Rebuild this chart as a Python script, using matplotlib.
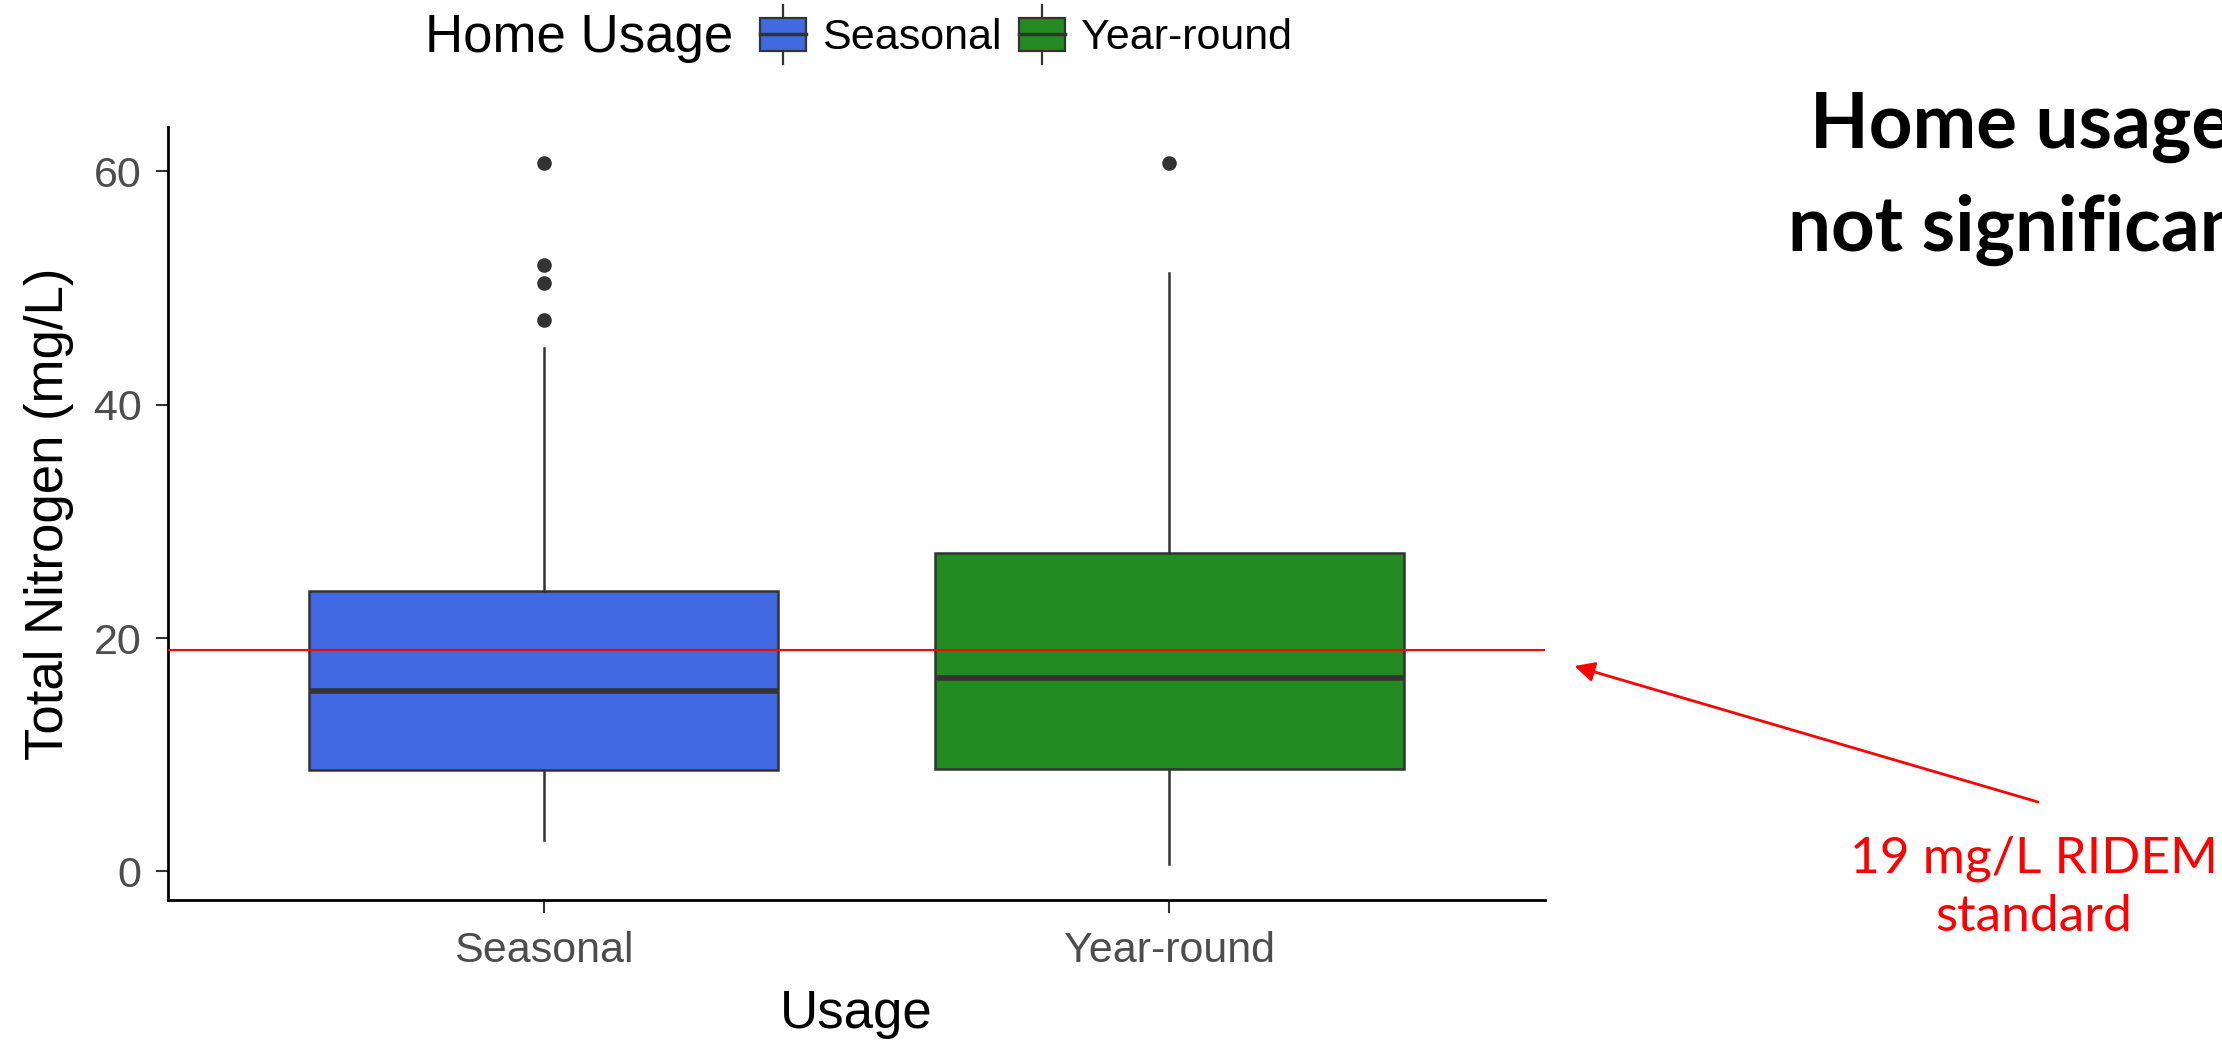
import matplotlib
matplotlib.use("Agg")
import matplotlib.pyplot as plt
from matplotlib.patches import Rectangle
from matplotlib.lines import Line2D
from matplotlib.legend_handler import HandlerBase

# ---- data -------------------------------------------------------------
categories = ["Seasonal", "Year-round"]
fill_colors = ["#4169E1", "#228B22"]
whisker_low = [2.7, 0.6]
quartile_1 = [8.7, 8.75]
medians = [15.5, 16.6]
quartile_3 = [24.0, 27.3]
whisker_high = [44.9, 51.3]
outliers = [[47.3, 50.4, 52.0, 60.7], [60.75]]
standard_level = 19
y_ticks = [0, 20, 40, 60]

W, H = 2222, 1041
fig = plt.figure(figsize=(W / 100, H / 100), dpi=100)
ax = fig.add_axes([168 / W, 1 - 900 / H, (1545 - 168) / W, (900 - 127.5) / H])

sans = "Liberation Sans"
edge = "#333333"

stats = []
for i, name in enumerate(categories):
    stats.append(dict(label=name, whislo=whisker_low[i], q1=quartile_1[i],
                      med=medians[i], q3=quartile_3[i], whishi=whisker_high[i],
                      fliers=outliers[i]))

positions = list(range(1, len(categories) + 1))
bp = ax.bxp(stats, positions=positions, widths=0.75, patch_artist=True,
            showcaps=False,
            boxprops=dict(edgecolor=edge, linewidth=1.8),
            whiskerprops=dict(color=edge, linewidth=1.8),
            medianprops=dict(color=edge, linewidth=4.0),
            flierprops=dict(marker="o", markersize=10.5, markerfacecolor=edge,
                            markeredgecolor=edge, markeredgewidth=0))
for patch, col in zip(bp["boxes"], fill_colors):
    patch.set_facecolor(col)

# regulatory standard
ax.axhline(standard_level, color="red", linewidth=1.5, zorder=5)

ax.set_xlim(0.4, 2.6)
ax.set_ylim(-2.45, 63.76)
ax.set_yticks(y_ticks)
ax.set_xticks(positions)
ax.set_xticklabels(categories)

for s in ["top", "right"]:
    ax.spines[s].set_visible(False)
for s in ["left", "bottom"]:
    ax.spines[s].set_color("black")
    ax.spines[s].set_linewidth(2.0)

ax.tick_params(axis="both", length=9, width=1.5, color=edge,
               labelcolor="#4D4D4D", labelsize=31, pad=10)
ax.tick_params(axis="x", pad=13)
for lbl in ax.get_xticklabels() + ax.get_yticklabels():
    lbl.set_fontfamily(sans)

ax.set_xlabel("Usage", fontsize=38, family=sans, labelpad=13)
ax.set_ylabel("Total Nitrogen (mg/L)", fontsize=38, family=sans, labelpad=14)


# ---- legend with boxplot-style keys -----------------------------------
class BoxKeyHandler(HandlerBase):
    def create_artists(self, legend, orig_handle, xdescent, ydescent,
                       width, height, fontsize, trans):
        x0, y0 = -xdescent, -ydescent
        fc = orig_handle.get_facecolor()
        xc = x0 + width / 2
        yc = y0 + height / 2
        ext = height * 0.9
        wl = Line2D([xc, xc], [yc - ext, yc + ext], color=edge, lw=1.6,
                    transform=trans)
        box = Rectangle((x0, y0), width, height, facecolor=fc,
                        edgecolor=edge, lw=1.6, transform=trans)
        med = Line2D([x0, x0 + width], [yc, yc], color=edge, lw=2.5,
                     transform=trans)
        return [wl, box, med]


handles = [Rectangle((0, 0), 1, 1, facecolor=c) for c in fill_colors]
fig.text(425 / W, 1 - 38 / H, "Home Usage", fontsize=38, family=sans,
         va="center", ha="left")
fig.legend(handles, categories, loc="center left",
           bbox_to_anchor=(760 / W, 1 - 38 / H), ncol=2, frameon=False,
           handler_map={Rectangle: BoxKeyHandler()},
           prop=dict(family=sans, size=31), handlelength=1.07,
           handleheight=0.8, handletextpad=0.37, columnspacing=0.4,
           borderpad=0, borderaxespad=0)

# ---- side notes --------------------------------------------------------
note_font = "Lato"
fig.text(1810 / W, 1 - 148 / H, "Home usage", fontsize=55, family=note_font,
         weight="bold", ha="left", va="baseline")
fig.text(1788 / W, 1 - 251 / H, "not significant", fontsize=55,
         family=note_font, weight="bold", ha="left", va="baseline")

fig.text(2034 / W, 1 - 836 / H, "19 mg/L RIDEM\nstandard", fontsize=37,
         family=note_font, color="red", ha="center", va="top",
         multialignment="center", linespacing=1.3)

ax.annotate("", xy=(2.647, 17.6), xycoords="data",
            xytext=(2038 / W, 1 - 802 / H), textcoords="figure fraction",
            arrowprops=dict(arrowstyle="-|>", color="red", lw=2,
                            mutation_scale=30, shrinkA=0, shrinkB=0),
            annotation_clip=False)

fig.savefig("out.png", dpi=100)
